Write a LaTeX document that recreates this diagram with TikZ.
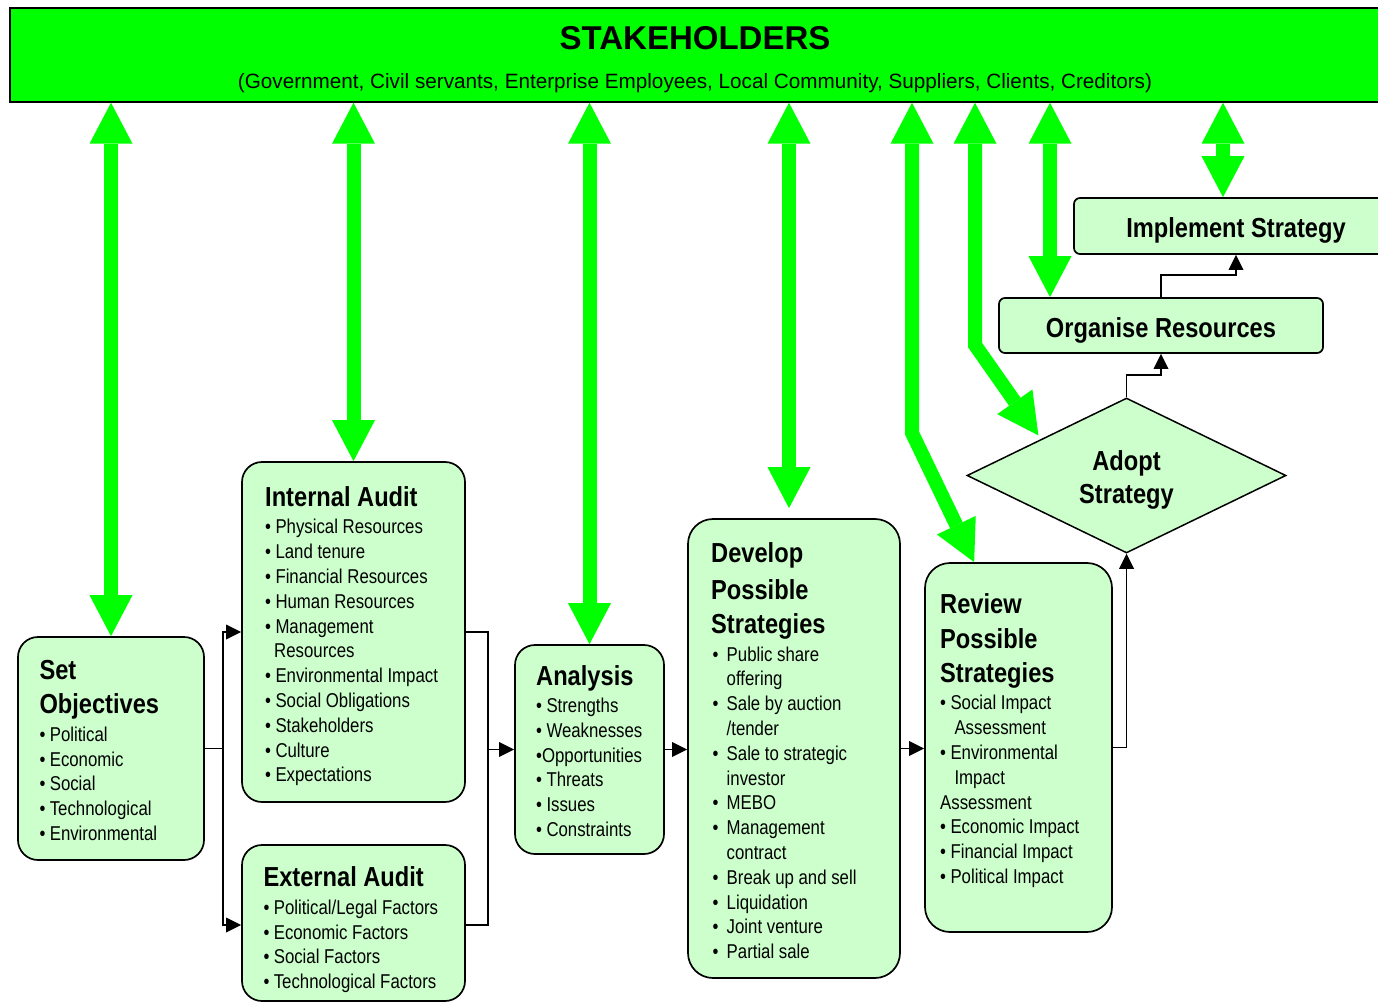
\documentclass[tikz,border=0pt]{standalone}
\usepackage{fontspec}
\setmainfont{Liberation Sans}
\newfontfamily\ttlfamily{Liberation Sans}[FakeStretch=0.86]
\newfontfamily\bodyfamily{Liberation Sans}[FakeStretch=0.84]
\usetikzlibrary{arrows.meta,shapes.geometric}

\definecolor{stakegreen}{HTML}{00FF00}
\definecolor{boxgreen}{HTML}{CCFFCC}

% text styles: bold condensed headings, condensed body lines
\newcommand\ttl{\ttlfamily\bfseries\fontsize{27.5}{34.5}\selectfont}
\newcommand\bodytxt{\bodyfamily\fontsize{20}{24.8}\selectfont}
\newcommand\bl{\makebox[10.3pt][l]{•}}
\newcommand\dbl{\makebox[15.5pt][l]{\hspace*{1.5pt}•}}

\begin{document}
\begin{tikzpicture}[x=1pt,y=-1pt,
  box/.style={draw=black, line width=1.7pt, fill=boxgreen, rounded corners=20pt, inner sep=0pt},
  txt/.style={anchor=north west, inner sep=0pt, align=left, font=\bodytxt},
  ttltxt/.style={inner sep=0pt, font=\ttl},
  garrow/.style={draw=stakegreen, line width=14pt, line join=miter,
    arrows={Triangle[length=41pt,width=43pt,line width=0pt]-Triangle[length=41pt,width=43pt,line width=0pt]}},
  conn/.style={draw=black, line width=1.7pt},
  arr/.style={-{Triangle[length=15pt,width=15pt,line width=0pt]}}]
\useasboundingbox (0,0) rectangle (1378,1003);

% stakeholder banner
\node[draw=black, line width=1.4pt, fill=stakegreen, inner sep=0pt,
      minimum width=1370pt, minimum height=94pt] (banner) at (695,55) {};
\node[anchor=base, inner sep=0pt, font=\bfseries\fontsize{33}{40}\selectfont] (stk-title) at (695,49.5) {STAKEHOLDERS};
\node[anchor=base, inner sep=0pt, font=\fontsize{20.7}{25}\selectfont] (stk-list) at (695,89)
  {(Government, Civil servants, Enterprise Employees, Local Community, Suppliers, Clients, Creditors)};

% process boxes
\node[box, minimum width=186pt, minimum height=223pt] (setobj) at (111,748.5) {};
\node[box, minimum width=223pt, minimum height=340pt] (intaudit) at (353.5,632) {};
\node[box, minimum width=223pt, minimum height=156pt] (extaudit) at (353.5,923) {};
\node[box, minimum width=149pt, minimum height=209pt] (analysis) at (589.5,749.5) {};
\node[box, rounded corners=25pt, minimum width=212pt, minimum height=459pt] (develop) at (794,748.5) {};
\node[box, rounded corners=25pt, minimum width=187pt, minimum height=369pt] (review) at (1018.5,747.5) {};
\node[diamond, draw=black, line width=1.5pt, fill=boxgreen, inner sep=0pt,
      minimum width=319pt, minimum height=155pt] (adopt) at (1126.5,475.5) {};
\node[box, rounded corners=6pt, minimum width=324pt, minimum height=55pt] (organise) at (1161,325.5) {};
\node[box, rounded corners=6pt, minimum width=324pt, minimum height=56pt] (implement) at (1236,226) {};

% box texts
\node[txt] (setobj-t) at (39.3,660)
  {{\ttl Set}\\[9.65pt]{\ttl Objectives}\\[2.55pt]
   \bl Political\\\bl Economic\\\bl Social\\\bl Technological\\\bl Environmental};
\node[txt] (intaudit-t) at (265,486.5)
  {{\ttl Internal Audit}\\[2.55pt]
   \bl Physical Resources\\\bl Land tenure\\\bl Financial Resources\\\bl Human Resources\\
   \bl Management\\\hspace*{9pt}Resources\\\bl Environmental Impact\\\bl Social Obligations\\
   \bl Stakeholders\\\bl Culture\\\bl Expectations};
\node[txt] (extaudit-t) at (263.3,866.8)
  {{\ttl External Audit}\\[2.55pt]
   \bl Political/Legal Factors\\\bl Economic Factors\\\bl Social Factors\\\bl Technological Factors};
\node[txt] (analysis-t) at (536,665)
  {{\ttl Analysis}\\[2.55pt]
   \bl Strengths\\\bl Weaknesses\\•Opportunities\\\bl Threats\\\bl Issues\\\bl Constraints};
\node[txt] (develop-t) at (711,542.8)
  {{\ttl Develop}\\[9.65pt]{\ttl Possible}\\[9.65pt]{\ttl Strategies}\\[2.55pt]
   \dbl Public share\\\hspace*{15.5pt}offering\\\dbl Sale by auction\\\hspace*{15.5pt}/tender\\
   \dbl Sale to strategic\\\hspace*{15.5pt}investor\\\dbl MEBO\\\dbl Management\\
   \hspace*{15.5pt}contract\\\dbl Break up and sell\\\dbl Liquidation\\\dbl Joint venture\\
   \dbl Partial sale};
\node[txt] (review-t) at (940,593.5)
  {{\ttl Review}\\[9.65pt]{\ttl Possible}\\[9.65pt]{\ttl Strategies}\\[2.55pt]
   \bl Social Impact\\\hspace*{14.3pt}Assessment\\\bl Environmental\\\hspace*{14.3pt}Impact\\
   Assessment\\\bl Economic Impact\\\bl Financial Impact\\\bl Political Impact};
\node[ttltxt, anchor=north, align=center] (adopt-t) at ([yshift=25.5pt]adopt.center)
  {Adopt\\[-1.5pt]Strategy};
\node[ttltxt, anchor=base] (organise-t) at ([yshift=-11.5pt]organise.center) {Organise Resources};
\node[ttltxt, anchor=base] (implement-t) at ([yshift=-11pt]implement.center) {Implement Strategy};

% flow connectors
\coordinate (j1) at ([xshift=18pt]setobj.east);
\coordinate (j2) at ([xshift=-26pt]analysis.west);
\draw[conn] (setobj.east) -- (j1);
\draw[conn, arr] (j1) |- (intaudit.west);
\draw[conn, arr] (j1) |- ([yshift=-2pt]extaudit.west);
\draw[conn] (intaudit.east) -| (j2) |- ([yshift=-2pt]extaudit.east);
\draw[conn, arr] (j2) -- (analysis.west);
\draw[conn, arr] (analysis.east) -- (analysis.east -| develop.west);
\draw[conn, arr] (develop.east) -- (develop.east -| review.west);
\draw[conn, arr] (review.east) -| (adopt.south);
\draw[conn, arr] (adopt.north) -- ++(0,-22) -| (organise.south);
\draw[conn, arr] (organise.north) -- ++(0,-22) -| (implement.south);

% stakeholder links
\coordinate (devtop) at ([xshift=-5pt,yshift=10pt]develop.north);
\coordinate (bend5) at (912,433);
\coordinate (revtop) at ([xshift=50pt]review.north west);
\coordinate (bend6) at (975,345);
\coordinate (adtip) at ([xshift=-8pt,yshift=1pt]adopt.north west);
\coordinate (orgtop) at ([xshift=-111pt]organise.north);
\coordinate (imptop) at ([xshift=-13pt]implement.north);
\draw[garrow] (banner.south -| setobj.north) -- (setobj.north);
\draw[garrow] (banner.south -| intaudit.north) -- (intaudit.north);
\draw[garrow] (banner.south -| analysis.north) -- (analysis.north);
\draw[garrow] (banner.south -| devtop) -- (devtop);
\draw[garrow] (banner.south -| bend5) -- (bend5) -- (revtop);
\draw[garrow] (banner.south -| bend6) -- (bend6) -- (adtip);
\draw[garrow] (banner.south -| orgtop) -- (orgtop);
\draw[garrow] (banner.south -| imptop) -- (imptop);
\end{tikzpicture}
\end{document}
